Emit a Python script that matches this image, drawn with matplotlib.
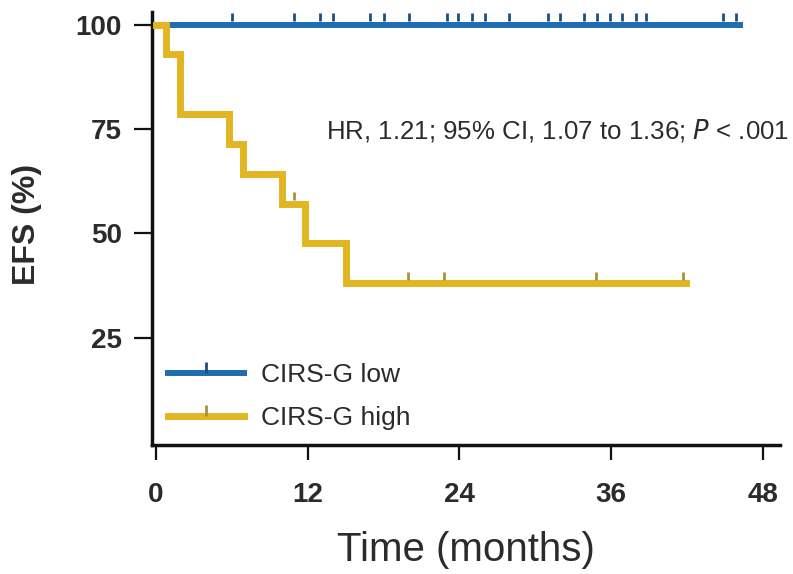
import matplotlib
matplotlib.use('Agg')
import matplotlib.pyplot as plt
import numpy as np

# Kaplan-Meier step data (months, EFS %)
low_times = [0, 46.2]
low_surv = [100, 100]
low_censor = [6.0, 10.9, 13.0, 14.0, 16.9, 18.0, 20.0, 23.0, 23.9, 25.0, 26.0, 27.9,
              31.0, 32.0, 33.9, 34.9, 35.9, 36.9, 38.0, 38.8, 44.9, 45.9]

high_times = [0, 0.8, 1.9, 5.8, 6.9, 10.0, 11.8, 15.0, 41.9]
high_surv = [100, 92.9, 78.6, 71.4, 64.3, 57.1, 47.6, 38.1, 38.1]
high_censor = [10.9, 19.9, 22.8, 34.8, 41.7]

blue = '#1f6db0'
blue_mark = '#1c4f82'
gold = '#e2b623'
gold_mark = '#a89235'
txt = '#2b2b2b'

plt.rcParams['font.family'] = ['Liberation Sans', 'DejaVu Sans']

fig = plt.figure(figsize=(7.93, 5.74), dpi=100)
ax = fig.add_axes([0.192, 0.225, 0.792, 0.754])


def km(ax, t, s, cens, color, mcolor, lw, label):
    ax.step(t, s, where='post', color=color, lw=lw, solid_joinstyle='miter',
            zorder=3)
    idx = np.searchsorted(t, cens, side='right') - 1
    ax.plot(cens, np.array(s)[idx] + 0.8, linestyle='none', marker=2,
            markersize=6, mew=2, color=mcolor, zorder=4)
    ax.plot([], [], color=color, lw=lw, marker=2, markersize=8, mew=2,
            markeredgecolor=mcolor, label=label)


km(ax, low_times, low_surv, low_censor, blue, blue_mark, 4.3, 'CIRS-G low')
km(ax, high_times, high_surv, high_censor, gold, gold_mark, 5, 'CIRS-G high')

ax.set_xlim(-0.3, 49.4)
ax.set_ylim(-0.7, 103)
ax.set_xticks([0, 12, 24, 36, 48])
ax.set_yticks([25, 50, 75, 100])

for side in ['top', 'right']:
    ax.spines[side].set_visible(False)
for side in ['left', 'bottom']:
    ax.spines[side].set_linewidth(2.5)
    ax.spines[side].set_color('#111111')
ax.tick_params(direction='out', width=1.6, color='#111111',
               labelsize=20, labelcolor=txt)
ax.tick_params(axis='x', length=11, pad=16)
ax.tick_params(axis='y', length=13, pad=9)
for lab in ax.get_xticklabels() + ax.get_yticklabels():
    lab.set_fontweight('bold')

ax.set_xlabel('Time (months)', fontsize=29, color=txt)
ax.xaxis.set_label_coords(0.5, -0.2)
ax.set_ylabel('EFS (%)', fontsize=23, color=txt, fontweight='bold')
ax.yaxis.set_label_coords(-0.175, 0.51)

ax.text(0.276, 0.727, 'HR, 1.21; 95% CI, 1.07 to 1.36; $\\mathit{P}$ < .001',
        transform=ax.transAxes, fontsize=18.6, color=txt, va='center')

leg = ax.legend(loc='lower left', bbox_to_anchor=(-0.012, -0.02), frameon=False,
                fontsize=19, handlelength=2.85, labelspacing=0.72,
                handletextpad=0.65, numpoints=1, labelcolor=txt)

fig.savefig('out.png', dpi=100)
